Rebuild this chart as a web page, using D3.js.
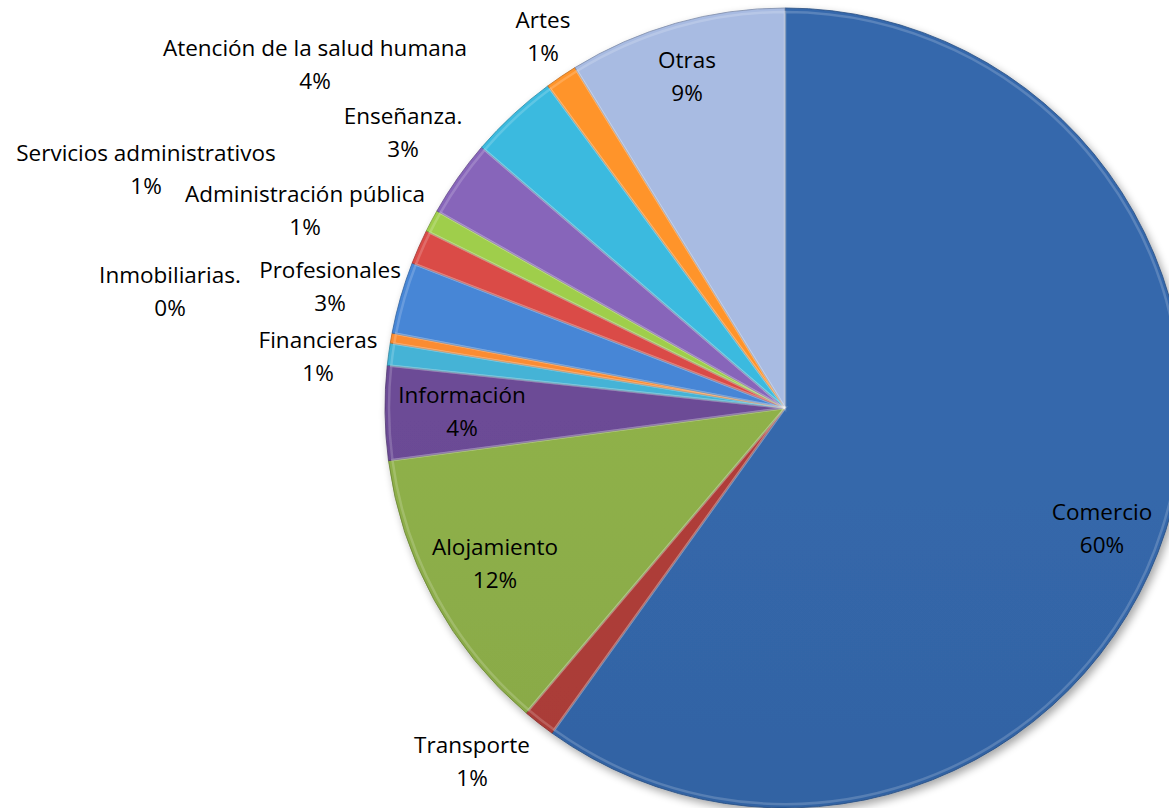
<!DOCTYPE html>
<html>
<head>
<meta charset="utf-8">
<script src="https://cdn.jsdelivr.net/npm/d3@7"></script>
<style>
html,body{margin:0;padding:0;background:#fff;}
svg{display:block;}
text{font-family:"Open Sans","Liberation Sans",sans-serif;}
</style>
</head>
<body>
<svg id="chart" width="1169" height="808"></svg>
<script>
// ---- data ----
const categories = ["Comercio","Transporte","Alojamiento","Información","Financieras","Inmobiliarias.","Profesionales","Servicios administrativos","Administración pública","Enseñanza.","Atención de la salud humana","Artes","Otras"];
const values = [59.9, 1.3, 11.7, 3.8, 0.9, 0.4, 2.9, 1.4, 0.9, 3.1, 3.6, 1.3, 8.8];
const percentLabels = ["60%","1%","12%","4%","1%","0%","3%","1%","1%","3%","4%","1%","9%"];
const colors = ["#3263A3","#A83B37","#88A846","#66478E","#40AACB","#EE8530","#437FCB","#CF4743","#97C348","#8060B0","#38B0D3","#F38C2A","#9FB1D6"];
// label anchor positions (center of first line)
const labelPos = [[1102,512],[472,745],[495,547],[462,395],[318,340],[170,275],[330,270],[146,153],[305,194],[403,116],[315,48],[543,20],[687,60]];

const svg = d3.select("#chart");
const cx = 785, cy = 408, R = 400;

const defs = svg.append("defs");
const f = defs.append("filter").attr("id","shadow").attr("x","-10%").attr("y","-10%").attr("width","130%").attr("height","130%");
f.append("feGaussianBlur").attr("in","SourceAlpha").attr("stdDeviation",4);
f.append("feOffset").attr("dx",3).attr("dy",4).attr("result","ob");
f.append("feComponentTransfer").append("feFuncA").attr("type","linear").attr("slope",0.35);
const fm = f.append("feMerge");
fm.append("feMergeNode");
fm.append("feMergeNode").attr("in","SourceGraphic");

colors.forEach((c,i)=>{
  const g = defs.append("linearGradient").attr("id","g"+i)
    .attr("gradientUnits","userSpaceOnUse")
    .attr("x1",cx).attr("y1",cy-R).attr("x2",cx).attr("y2",cy+R);
  g.append("stop").attr("offset","0%").attr("stop-color", d3.color(c).brighter(0.15));
  g.append("stop").attr("offset","50%").attr("stop-color", c);
  g.append("stop").attr("offset","100%").attr("stop-color", d3.color(c).darker(0.5));
});

const data = categories.map((c,i)=>({name:c, value:values[i], pct:percentLabels[i], i}));
const pie = d3.pie().value(d=>d.value).sort(null).startAngle(0).endAngle(2*Math.PI);
const arcs = pie(data);
const arc = d3.arc().innerRadius(0).outerRadius(R);
const arcIn = d3.arc().innerRadius(0).outerRadius(R-4);

const g = svg.append("g").attr("transform",`translate(${cx},${cy})`);
const sg = g.append("g").attr("filter","url(#shadow)");
sg.selectAll("path.slice").data(arcs).enter().append("path")
  .attr("class","slice")
  .attr("d",arc)
  .attr("fill",d=>`url(#g${d.data.i})`)
  .attr("stroke",d=>d3.color(colors[d.data.i]).darker(0.7))
  .attr("stroke-width",0.8)
  .attr("stroke-linejoin","round");
// bevel highlight
g.selectAll("path.bevel").data(arcs).enter().append("path")
  .attr("d",arcIn)
  .attr("fill","none")
  .attr("stroke","#fff")
  .attr("stroke-opacity",0.18)
  .attr("stroke-width",2.5);

// labels
const lab = svg.append("g");
data.forEach((d,i)=>{
  const [x,y] = labelPos[i];
  const t = lab.append("text").attr("x",x).attr("y",y).attr("text-anchor","middle")
    .attr("font-size",22.5).attr("fill","#000");
  t.append("tspan").attr("x",x).attr("dy","0.35em").text(d.name);
  t.append("tspan").attr("x",x).attr("dy","1.45em").text(d.pct);
});
</script>
</body>
</html>
